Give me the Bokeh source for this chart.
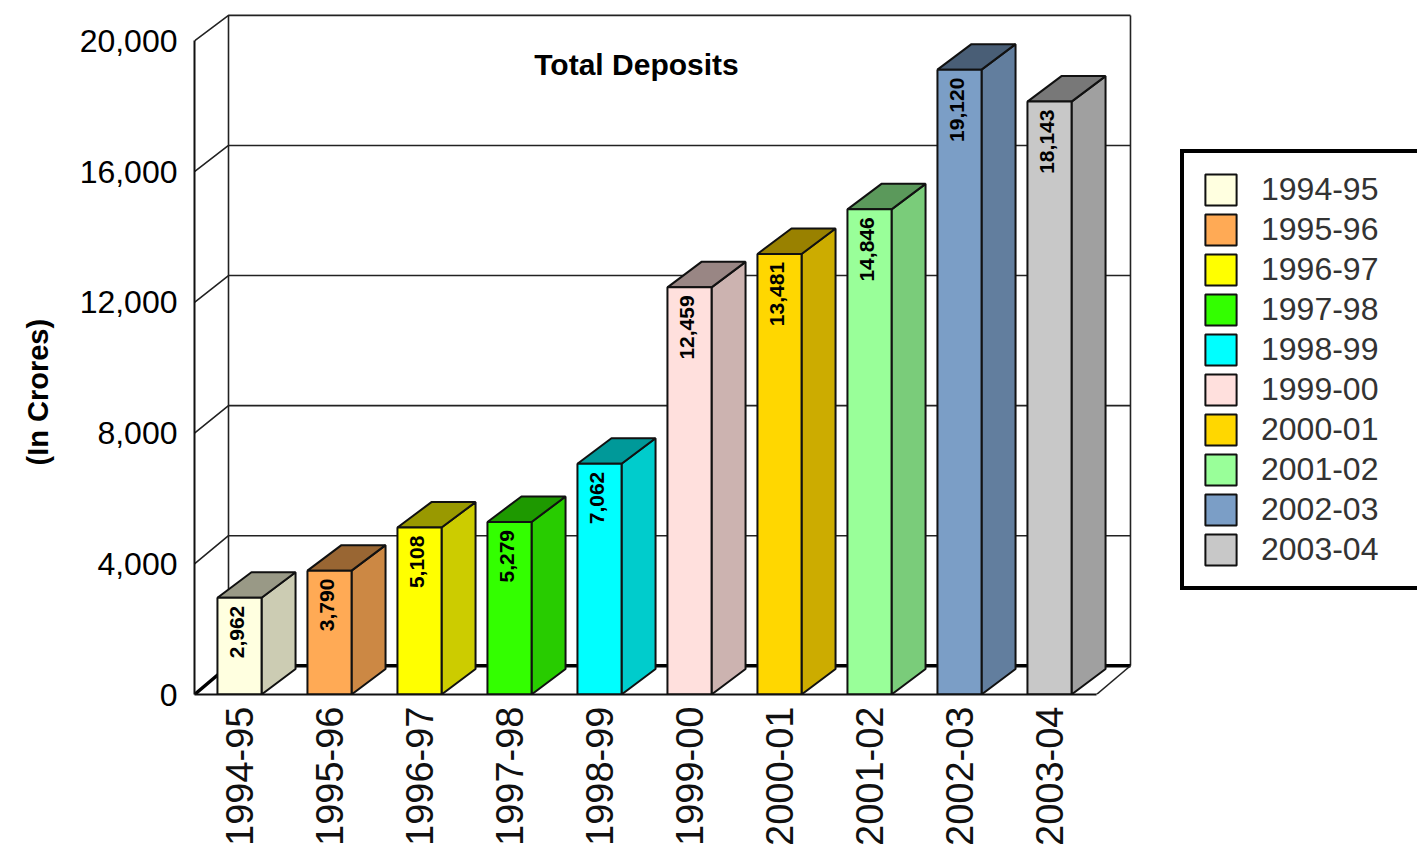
from bokeh.plotting import figure
from bokeh.models import Range1d, FixedTicker, Legend, LegendItem, Label, ColumnDataSource, Title
from bokeh.core.properties import value
from bokeh.embed import file_html
from bokeh.resources import INLINE

categories = ["1994-95", "1995-96", "1996-97", "1997-98", "1998-99",
              "1999-00", "2000-01", "2001-02", "2002-03", "2003-04"]
deposits = [2962, 3790, 5108, 5279, 7062, 12459, 13481, 14846, 19120, 18143]
colors = ["#FFFFE0", "#FFAA55", "#FFFF00", "#33FF00", "#00FFFF",
          "#FFE0DD", "#FFD700", "#99FF99", "#7B9EC6", "#C8C8C8"]
y_ticks = [0, 4000, 8000, 12000, 16000, 20000]

FONT = "Liberation Sans"
PX_PER_X = 90.0
PX_PER_Y = 0.03268
DX = 34 / PX_PER_X      # 3D depth, x units
DY = 780                # 3D depth, y units
DY_FLOOR = 880
X_LEFT, X_RIGHT = -0.5, 9.522
HALF = 0.245
Y_TOP = 20000


def shade(c, k):
    r, g, b = int(c[1:3], 16), int(c[3:5], 16), int(c[5:7], 16)
    return "#%02x%02x%02x" % (int(r * k), int(g * k), int(b * k))


def back_y(v):
    return DY_FLOOR + v * (Y_TOP + DY - DY_FLOOR) / Y_TOP


p = figure(width=1417, height=851, output_backend="svg", toolbar_location=None,
           x_range=Range1d(X_LEFT, X_LEFT + (1417 - 194) / PX_PER_X),
           y_range=Range1d(0, 694 / PX_PER_Y),
           min_border_left=194, min_border_right=0, min_border_top=0, min_border_bottom=157)
p.outline_line_color = None
p.grid.visible = False
p.background_fill_color = "white"

# walls: grid lines on the back wall and their return along the left wall
back_x = X_LEFT + DX
grid_xs, grid_ys = [], []
for t in y_ticks[1:]:
    grid_xs.append([X_LEFT, back_x, X_RIGHT + DX])
    grid_ys.append([t, back_y(t), back_y(t)])
p.multi_line(grid_xs, grid_ys, line_color="#222222", line_width=1.6)
p.multi_line([[back_x, back_x], [X_RIGHT + DX, X_RIGHT + DX]],
             [[back_y(0), back_y(Y_TOP)], [back_y(0), back_y(Y_TOP)]],
             line_color="#222222", line_width=1.6)
# floor
p.line([X_LEFT, back_x, X_RIGHT + DX], [0, back_y(0), back_y(0)], line_color="black", line_width=3.5)
p.line([X_RIGHT, X_RIGHT + DX], [0, back_y(0)], line_color="#222222", line_width=1.6)

# bars
xs = list(range(len(categories)))
side_xs, side_ys, top_xs, top_ys = [], [], [], []
for x, v in zip(xs, deposits):
    l, r = x - HALF, x + HALF
    side_xs.append([r, r + DX, r + DX, r])
    side_ys.append([0, DY, v + DY, v])
    top_xs.append([l, r, r + DX, l + DX])
    top_ys.append([v, v, v + DY, v + DY])
p.patches(side_xs, side_ys, fill_color=[shade(c, 0.8) for c in colors],
          line_color="#111111", line_width=2)
p.patches(top_xs, top_ys, fill_color=[shade(c, 0.6) for c in colors],
          line_color="#111111", line_width=2)
src = ColumnDataSource(dict(left=[x - HALF for x in xs], right=[x + HALF for x in xs],
                            top=deposits, bottom=[0] * len(xs), color=colors,
                            x=xs, label=[f"{v:,}" for v in deposits],
                            ly=[v - 8 / PX_PER_Y for v in deposits]))
front = p.quad(left="left", right="right", top="top", bottom="bottom", fill_color="color",
               line_color="#111111", line_width=2, source=src)
p.text(x="x", y="ly", text="label", source=src, angle=1.5708, text_align="right",
       text_baseline="middle", x_offset=-3, text_color="black",
       text_font=value(FONT), text_font_style="bold", text_font_size="21px")

# axes
ya = p.yaxis[0]
ya.ticker = FixedTicker(ticks=y_ticks)
ya.formatter.use_scientific = False
ya.major_label_overrides = {t: f"{t:,}" for t in y_ticks}
ya.bounds = (0, Y_TOP)
ya.axis_line_color = "#111111"
ya.axis_line_width = 2
ya.major_tick_line_color = None
ya.minor_tick_line_color = None
ya.major_label_standoff = 11
ya.major_label_text_font = FONT
ya.major_label_text_font_size = "32px"
ya.major_label_text_color = "black"

xa = p.xaxis[0]
xa.ticker = FixedTicker(ticks=xs)
xa.major_label_overrides = {x: c for x, c in zip(xs, categories)}
xa.major_label_orientation = 1.5708
xa.bounds = (X_LEFT, X_RIGHT)
xa.axis_line_color = "#111111"
xa.axis_line_width = 2
xa.major_tick_line_color = None
xa.minor_tick_line_color = None
xa.major_label_standoff = 6
xa.major_label_text_font = FONT
xa.major_label_text_font_size = "38px"
xa.major_label_text_color = "#111111"

p.add_layout(Label(x=636 - 194, y=694 - 64, x_units="screen", y_units="screen",
                   text="Total Deposits", text_align="center", text_baseline="middle",
                   text_font=FONT, text_font_style="bold", text_font_size="30px",
                   text_color="black"))
p.add_layout(Title(text="(In Crores)", align="left", offset=229, standoff=41, vertical_align="top",
                   text_font=FONT, text_font_style="bold", text_font_size="29px",
                   text_color="black"), "left")

legend = Legend(items=[LegendItem(label=c, renderers=[front], index=i)
                       for i, c in enumerate(categories)],
                location=(1183 - 194 - 3, 694 - 587 - 3), orientation="vertical",
                glyph_width=39, glyph_height=39, label_standoff=21, spacing=1,
                padding=17, margin=0, label_width=200, label_height=31,
                label_text_font=FONT, label_text_font_size="32px", label_text_color="#333333",
                border_line_color="black", border_line_width=4, border_line_alpha=1,
                background_fill_alpha=1, click_policy="none")
p.add_layout(legend, "center")

open("out.html", "w").write(file_html(p, INLINE))
